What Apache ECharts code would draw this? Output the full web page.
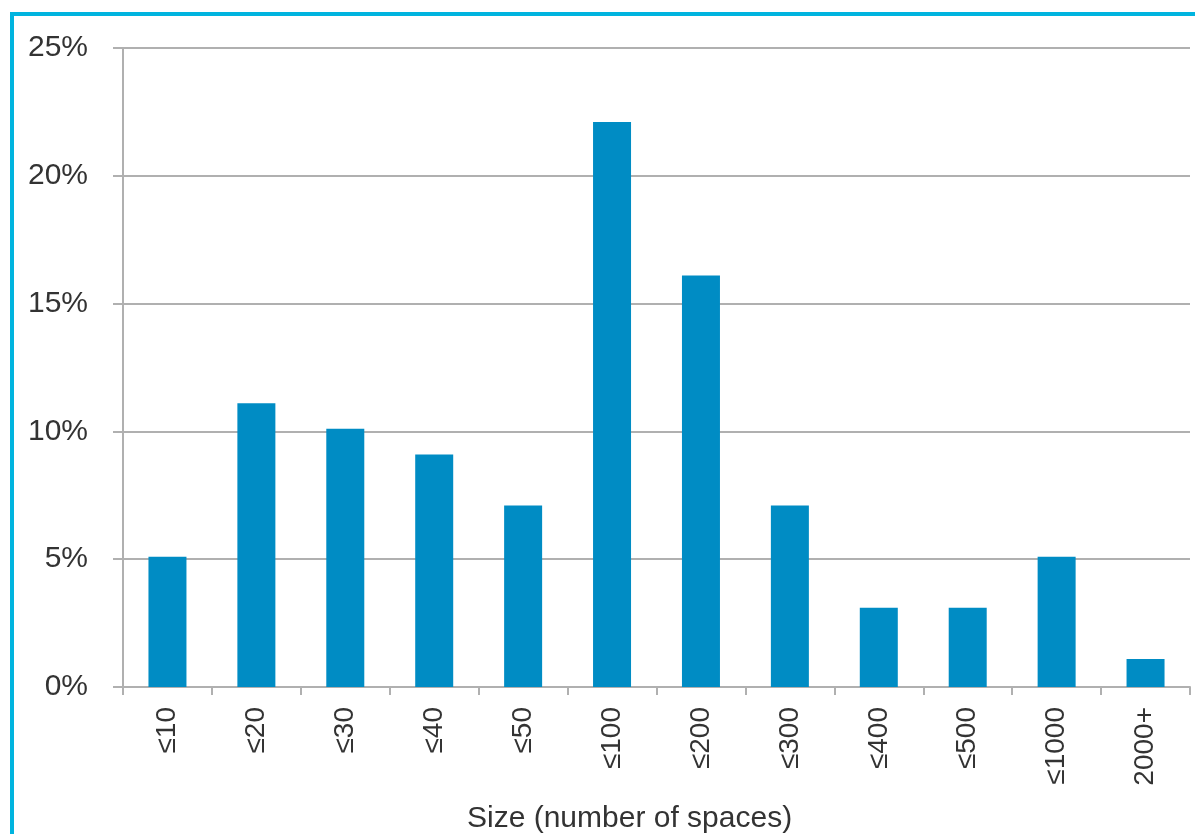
<!DOCTYPE html>
<html>
<head>
<meta charset="utf-8">
<script src="https://cdn.jsdelivr.net/npm/echarts@6/dist/echarts.min.js"></script>
<style>
  html, body { margin: 0; padding: 0; background: #ffffff; }
  #chart { width: 1195px; height: 834px; }
</style>
</head>
<body>
<div id="chart"></div>
<script>
// Share of facilities by size band
const categories = ['≤10', '≤20', '≤30', '≤40', '≤50', '≤100', '≤200', '≤300', '≤400', '≤500', '≤1000', '2000+'];
const shares = [5.1, 11.1, 10.1, 9.1, 7.1, 22.1, 16.1, 7.1, 3.1, 3.1, 5.1, 1.1];
const yTicks = { min: 0, max: 25, step: 5 };
const xAxisTitle = 'Size (number of spaces)';

const textColor = '#333333';
const gridColor = '#b0b0b0';
const fontFamily = 'Liberation Sans, Arial, sans-serif';

const chart = echarts.init(document.getElementById('chart'), null, { renderer: 'canvas' });

chart.setOption({
  animation: false,
  backgroundColor: '#ffffff',
  grid: { left: 123, right: 5, top: 48, bottom: 147, containLabel: false },
  graphic: [
    // cyan frame along the top and left edges
    { type: 'rect', shape: { x: 10, y: 12, width: 1185, height: 4 }, style: { fill: '#00b4df' }, silent: true },
    { type: 'rect', shape: { x: 10, y: 12, width: 4, height: 822 }, style: { fill: '#00b4df' }, silent: true },
    // horizontal axis title
    {
      type: 'text', left: 467, top: 804, silent: true,
      style: { text: xAxisTitle, fill: textColor, fontSize: 30, fontFamily: fontFamily }
    }
  ],
  xAxis: {
    type: 'category',
    data: categories,
    boundaryGap: true,
    axisLine: { show: true, lineStyle: { color: gridColor, width: 2 } },
    axisTick: { show: true, length: 8, alignWithLabel: false, lineStyle: { color: gridColor, width: 2 } },
    axisLabel: {
      rotate: 90,
      margin: 20,
      interval: 0,
      color: textColor,
      fontSize: 28,
      fontFamily: fontFamily
    },
    splitLine: { show: false }
  },
  yAxis: {
    type: 'value',
    min: yTicks.min,
    max: yTicks.max,
    interval: yTicks.step,
    axisLine: { show: true, lineStyle: { color: gridColor, width: 2 } },
    axisTick: { show: true, length: 10, lineStyle: { color: gridColor, width: 2 } },
    axisLabel: {
      formatter: '{value}%',
      margin: 35,
      padding: [4, 0, 0, 0],
      color: textColor,
      fontSize: 30,
      fontFamily: fontFamily
    },
    splitLine: { show: true, lineStyle: { color: gridColor, width: 2 } }
  },
  series: [{
    type: 'bar',
    data: shares,
    barWidth: 38,
    itemStyle: { color: '#008cc4' }
  }]
});
</script>
</body>
</html>
